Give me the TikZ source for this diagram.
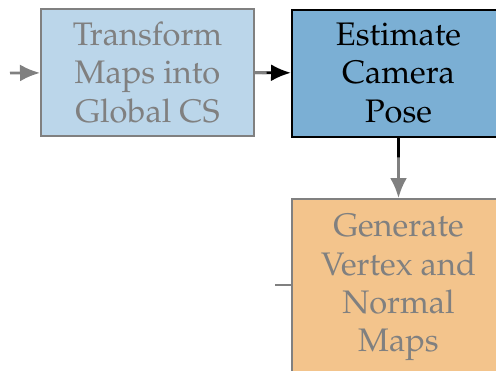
\documentclass[tikz,border=0pt]{standalone}
\usepackage[T1]{fontenc}
\usepackage{mathpazo}
\usetikzlibrary{arrows.meta,calc}

\definecolor{lightblue}{HTML}{BBD6EA}
\definecolor{midblue}{HTML}{7BAFD4}
\definecolor{lightorange}{HTML}{F3C48C}
\definecolor{fadegray}{HTML}{808080}

\begin{document}
\begin{tikzpicture}[x=0.5pt, y=-0.5pt,
    stage/.style={rectangle, align=center, font=\fontsize{16.3}{19.2}\selectfont,
        minimum width=106.5pt, minimum height=63.5pt, line width=1pt},
    faded/.style={stage, draw=fadegray, text=fadegray},
    flow/.style={line width=1.4pt, -{Latex[length=10pt,width=8.5pt]}}
]

    % Page size
    \clip (0,0) rectangle (496,370);

    % Stages
    \node[faded, fill=lightblue] (transform) at (147.5,72.5) {Transform\\Maps into\\Global CS};
    \node[stage, draw=black, fill=midblue] (estimate) at (398.5,73) {Estimate\\Camera\\Pose};
    \node[faded, fill=lightorange, anchor=north, inner ysep=7.5pt, text depth=40pt] (generate) at (398.5,198) {Generate\\Vertex and\\Normal\\Maps};

    % Loose ends
    \coordinate (input) at (10,73);
    \coordinate (side) at (275,285);

    % Input into the first stage
    \draw[flow, fadegray] (input) -- (transform);

    % Transform -> Estimate (gray at the start)
    \draw[flow, black] (transform) -- (estimate);
    \draw[line width=1.4pt, fadegray] (transform.east) -- ($(transform.east)!0.32!(estimate.west)$);

    % Estimate -> Generate (black at the start)
    \draw[flow, fadegray] (estimate) -- (generate);
    \draw[line width=1.4pt, black] (estimate.south) -- ($(estimate.south)!0.33!(generate.north)$);

    % Side line into Generate
    \draw[line width=1.4pt, fadegray] (side) -- (side -| generate.west);

\end{tikzpicture}
\end{document}
